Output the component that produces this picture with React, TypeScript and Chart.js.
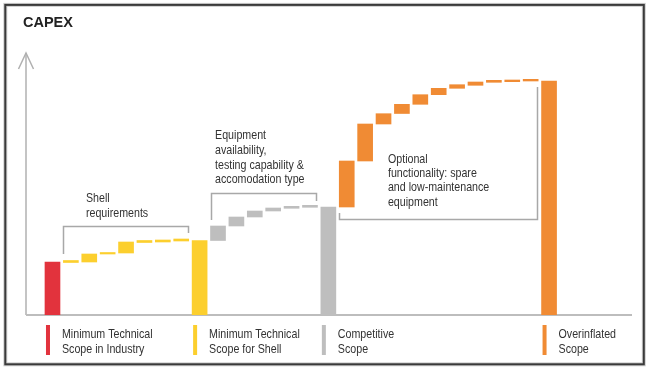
import React, { useEffect, useRef } from "react";
import { Chart, registerables } from "chart.js";

Chart.register(...registerables);

// ---- Data (relative CAPEX units) ----
const industryMinimum = 53;
const shellRequirementSteps: [number, number][] = [
  [52.5, 54.5], [53, 61], [61, 62.5], [62, 73], [72.5, 74.5], [73, 75], [74, 76],
];
const shellMinimum = 74.5;
const competitiveSteps: [number, number][] = [
  [74.5, 89], [89, 98], [98, 104], [104, 107], [106.7, 108.7], [107.7, 109.7],
];
const competitiveScope = 108;
const optionalSteps: [number, number][] = [
  [108, 154], [154, 191], [191, 201.3], [201.5, 210.7], [210.7, 220.3], [220.3, 226.7],
  [226.7, 230.3], [229.7, 233], [232.7, 234.7], [233.3, 235], [234, 235.7],
];
const overinflatedScope = 234;

const legendLabels: string[][] = [
  ["Minimum Technical", "Scope in Industry"],
  ["Minimum Technical", "Scope for Shell"],
  ["Competitive", "Scope"],
  ["Overinflated", "Scope"],
];
const groupNotes: string[][] = [
  ["Shell", "requirements"],
  ["Equipment", "availability,", "testing capability &", "accomodation type"],
  ["Optional", "functionality: spare", "and low-maintenance", "equipment"],
];
const titleText = "CAPEX";

const COLORS = ["#E2333D", "#FCCF2E", "#BEBEBE", "#F08B34"];

// ---- Build series ----
type Pt = { x: number; y: [number, number] };
const redPts: Pt[] = [{ x: 0, y: [0, industryMinimum] }];
let pos = 1;
const yellowPts: Pt[] = [];
const shellFirst = pos;
shellRequirementSteps.forEach((s) => yellowPts.push({ x: pos++, y: s }));
const shellLast = pos - 1;
const shellTotalIdx = pos;
yellowPts.push({ x: pos++, y: [0, shellMinimum] });
const grayPts: Pt[] = [];
const compFirst = pos;
competitiveSteps.forEach((s) => grayPts.push({ x: pos++, y: s }));
const compLast = pos - 1;
const compTotalIdx = pos;
grayPts.push({ x: pos++, y: [0, competitiveScope] });
const orangePts: Pt[] = [];
const optFirst = pos;
optionalSteps.forEach((s) => orangePts.push({ x: pos++, y: s }));
const optLast = pos - 1;
const overTotalIdx = pos;
orangePts.push({ x: pos++, y: [0, overinflatedScope] });

const legendIdx = [0, shellTotalIdx, compTotalIdx, overTotalIdx];

// brackets in data units: horizontal line value, leg end values
const brackets = [
  { first: shellFirst, last: shellLast, bar: 89, leftEnd: 61, rightEnd: 82 },
  { first: compFirst, last: compLast, bar: 122, leftEnd: 95, rightEnd: 114 },
  { first: optFirst, last: optLast, bar: 96, leftEnd: 102, rightEnd: 228 },
];
const notePos = [
  { x: 1.82, y: 117, lh: 15 },
  { x: 8.84, y: 179.5, lh: 14.8 },
  { x: 18.24, y: 156, lh: 14.4 },
];

const BAR_W = 15;

function hasFont(name: string) {
  const c = document.createElement("canvas").getContext("2d")!;
  c.font = "13px monospace";
  const a = c.measureText("Minimum Technical wWmM").width;
  c.font = `13px "${name}", monospace`;
  const b = c.measureText("Minimum Technical wWmM").width;
  return Math.abs(a - b) > 0.5;
}

export default function App() {
  const ref = useRef<HTMLCanvasElement>(null);
  useEffect(() => {
    const narrow = hasFont("Liberation Sans Narrow");
    const txt = (ctx: CanvasRenderingContext2D, s: string, x: number, y: number) => {
      ctx.save();
      ctx.translate(x, y);
      if (narrow) {
        ctx.font = '13px "Liberation Sans Narrow"';
      } else {
        ctx.font = '13px "Liberation Sans", Arial, sans-serif';
        ctx.scale(0.82, 1);
      }
      ctx.fillStyle = "#333333";
      ctx.textBaseline = "middle";
      ctx.textAlign = "left";
      ctx.fillText(s, 0, 0);
      ctx.restore();
    };

    const decor = {
      id: "decor",
      beforeDatasetsDraw(chart: any) {
        const { ctx, chartArea: a, scales } = chart;
        const x = scales.x, y = scales.y;
        ctx.save();
        // frame
        ctx.strokeStyle = "#cfcfcf";
        ctx.lineWidth = 4;
        ctx.strokeRect(5.3, 4.9, 638.5, 359.4);
        ctx.strokeStyle = "#3a3a3a";
        ctx.lineWidth = 2;
        ctx.strokeRect(5.3, 4.9, 638.5, 359.4);
        // title
        ctx.fillStyle = "#222222";
        ctx.font = 'bold 14.5px "Liberation Sans", Arial, sans-serif';
        ctx.textBaseline = "middle";
        ctx.fillText(titleText, 23, 23);
        // axes
        ctx.strokeStyle = "#b0b0b0";
        ctx.lineWidth = 1.5;
        ctx.beginPath();
        ctx.moveTo(a.left, a.bottom);
        ctx.lineTo(a.left, a.top);
        ctx.stroke();
        ctx.beginPath();
        ctx.moveTo(a.left - 7.5, a.top + 16);
        ctx.lineTo(a.left, a.top);
        ctx.lineTo(a.left + 7.5, a.top + 16);
        ctx.stroke();
        ctx.strokeStyle = "#bdbdbd";
        ctx.lineWidth = 2;
        ctx.beginPath();
        ctx.moveTo(a.left, a.bottom);
        ctx.lineTo(a.right, a.bottom);
        ctx.stroke();
        // brackets
        ctx.strokeStyle = "#a8a8a8";
        ctx.lineWidth = 1.5;
        brackets.forEach((b) => {
          const l = Math.round(x.getPixelForValue(b.first) - BAR_W / 2) + 0.5;
          const r = Math.round(x.getPixelForValue(b.last) + BAR_W / 2) - 0.5;
          const yb = Math.round(y.getPixelForValue(b.bar)) + 0.5;
          ctx.beginPath();
          ctx.moveTo(l, y.getPixelForValue(b.leftEnd));
          ctx.lineTo(l, yb);
          ctx.lineTo(r, yb);
          ctx.lineTo(r, y.getPixelForValue(b.rightEnd));
          ctx.stroke();
        });
        // notes
        groupNotes.forEach((lines, i) => {
          const p = notePos[i];
          const px = x.getPixelForValue(p.x);
          const py = y.getPixelForValue(p.y);
          lines.forEach((s, j) => txt(ctx, s, px, py + j * p.lh));
        });
        // legend
        legendIdx.forEach((idx, i) => {
          const l = x.getPixelForValue(idx) - BAR_W / 2 + 1;
          ctx.fillStyle = COLORS[i];
          ctx.fillRect(l, a.bottom + 10, 4, 30);
          legendLabels[i].forEach((s, j) => txt(ctx, s, l + 16, a.bottom + 19.5 + j * 15));
        });
        ctx.restore();
      },
    };

    const mk = (data: Pt[], color: string) => ({
      data,
      backgroundColor: color,
      borderWidth: 0,
      barThickness: BAR_W,
      grouped: false,
    });

    const chart = new Chart(ref.current!, {
      type: "bar",
      data: {
        datasets: [
          mk(redPts, COLORS[0]),
          mk(yellowPts, COLORS[1]),
          mk(grayPts, COLORS[2]),
          mk(orangePts, COLORS[3]),
        ] as any,
      },
      options: {
        animation: false,
        responsive: false,
        devicePixelRatio: 1,
        layout: { padding: { left: 26, right: 18, top: 53, bottom: 56 } },
        plugins: { legend: { display: false }, tooltip: { enabled: false }, title: { display: false } },
        scales: {
          x: { type: "linear", min: -1.44, max: 31.51, offset: false, display: false },
          y: { min: 0, max: 262, display: false },
        },
      },
      plugins: [decor],
    });
    return () => chart.destroy();
  }, []);
  return (
    <div style={{ position: "fixed", left: 0, top: 0, width: 650, height: 371, background: "#fff" }}>
      <canvas ref={ref} width={650} height={371} style={{ display: "block" }} />
    </div>
  );
}
